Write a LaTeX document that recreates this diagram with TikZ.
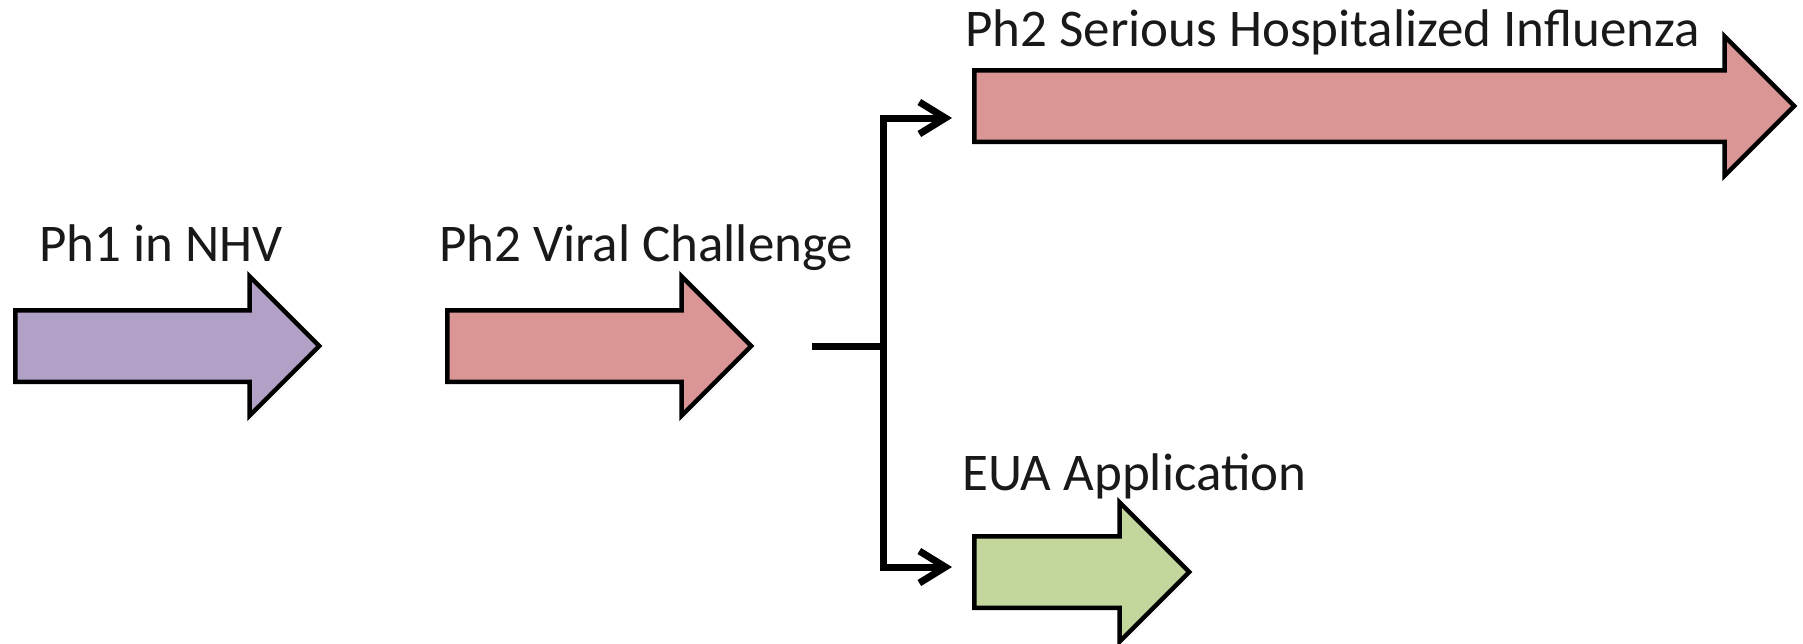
\documentclass[tikz,border=0pt]{standalone}
\usepackage{fontspec}
\setmainfont{Carlito}
\usetikzlibrary{shapes.arrows,arrows.meta}

\definecolor{phlavender}{RGB}{178,161,199}
\definecolor{phrose}{RGB}{217,150,148}
\definecolor{phgreen}{RGB}{195,214,155}

\tikzset{
  phase/.style={single arrow, draw=black, line width=4.5pt, inner xsep=0pt,
    inner ysep=33.5pt, single arrow head extend=34pt, anchor=tail},
  phaselabel/.style={inner sep=0pt, anchor=base west, text=black!90,
    font=\fontsize{53pt}{60pt}\selectfont},
  link/.style={line width=7pt},
  linkarrow/.style={link, -{Straight Barb[length=26pt,width=32pt]}, shorten >=20pt}
}

\begin{document}
\begin{tikzpicture}[x=1pt,y=-1pt]
\useasboundingbox (0,0) rectangle (1803,643);
\node[phase, fill=phlavender, minimum height=304pt] (ph1) at (13,346) {};
\node[phase, fill=phrose, minimum height=304pt] (viral) at (445,346) {};
\node[phase, fill=phrose, minimum height=820pt] (serious) at (972,106) {};
\node[phase, fill=phgreen, minimum height=215pt] (eua) at (972,572) {};
\node[phaselabel] (ph1lbl) at (39,261) {Ph1 in NHV};
\node[phaselabel] (virallbl) at (439,261) {Ph2 Viral Challenge};
\node[phaselabel] (seriouslbl) at (965,46) {Ph2 Serious Hospitalized Influenza};
\node[phaselabel] (eualbl) at (962,490) {EUA Application};
% split after the viral challenge
\coordinate (fork) at (812,346);
\coordinate (split) at (883,346);
\draw[link] (fork) -- (split);
\draw[linkarrow] (split) |- ([yshift=-12pt]serious.tail);
\draw[linkarrow] (split) |- ([yshift=5pt]eua.tail);
\end{tikzpicture}
\end{document}
